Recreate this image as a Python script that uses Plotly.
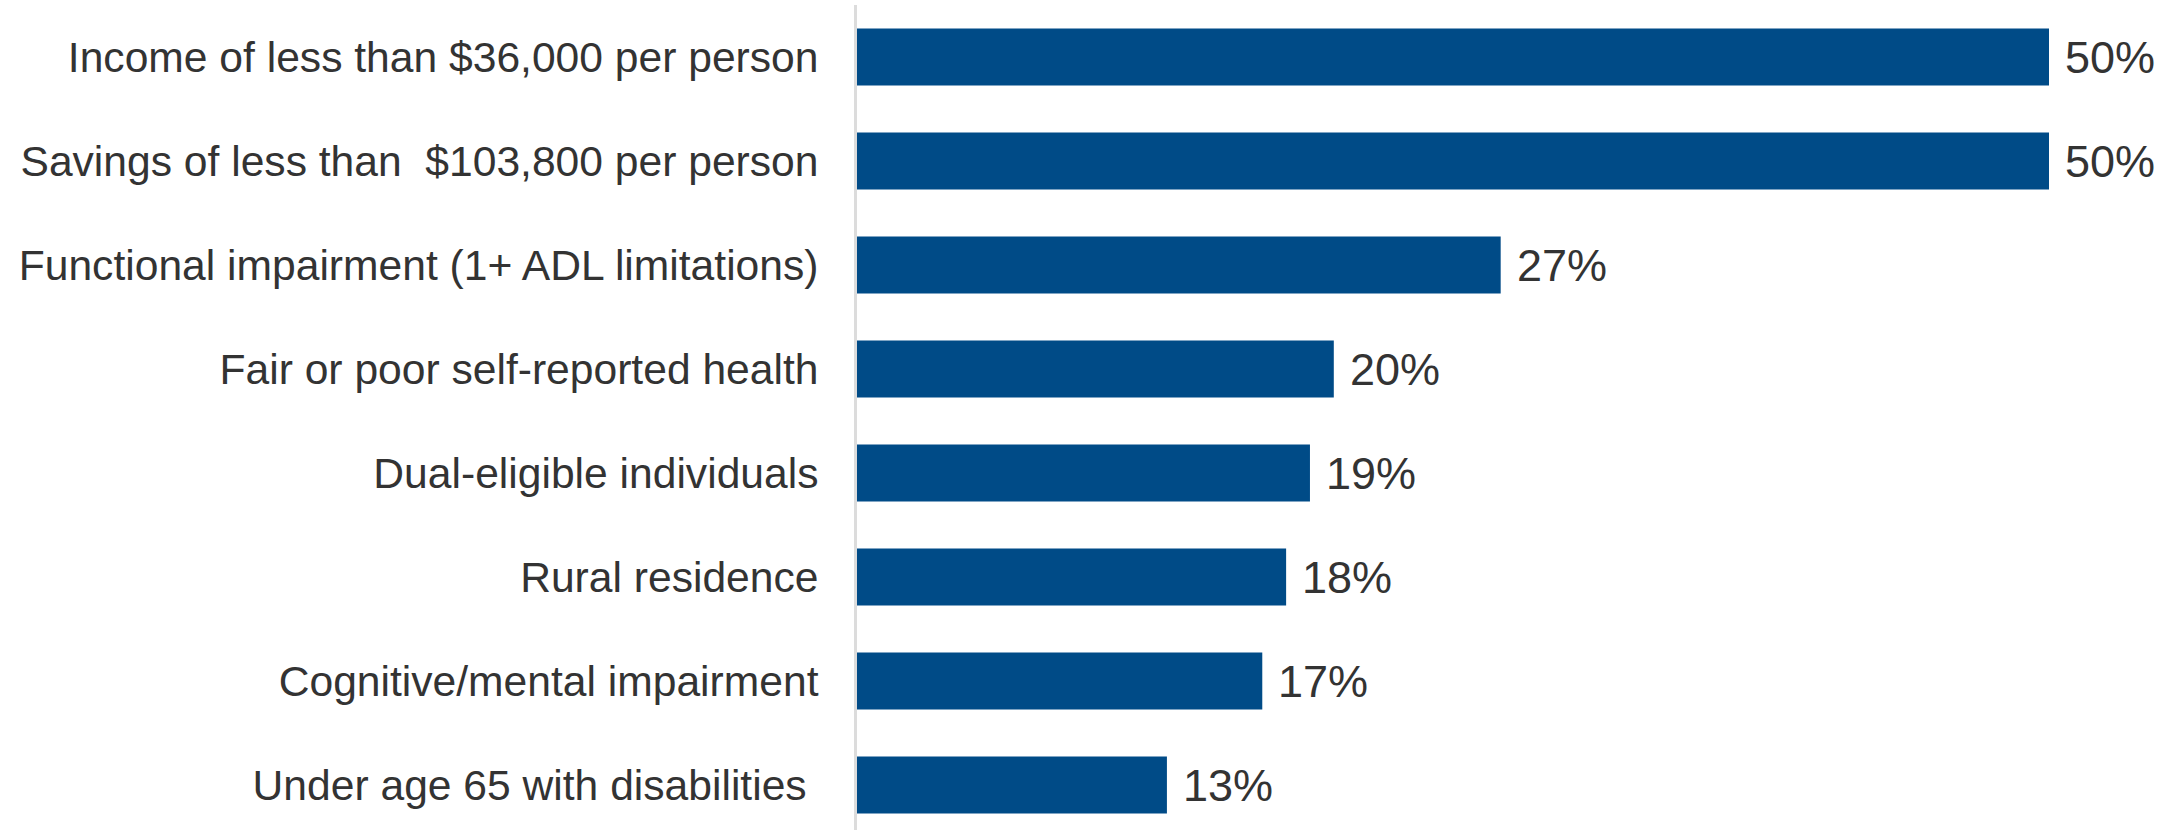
import plotly.graph_objects as go

categories = [
    "Income of less than $36,000 per person",
    "Savings of less than \u00a0$103,800 per person",
    "Functional impairment (1+ ADL limitations)",
    "Fair or poor self-reported health",
    "Dual-eligible individuals",
    "Rural residence",
    "Cognitive/mental impairment",
    "Under age 65 with disabilities\u00a0",
]
values = [50, 50, 27, 20, 19, 18, 17, 13]
value_labels = ["50%", "50%", "27%", "20%", "19%", "18%", "17%", "13%"]

BAR_COLOR = "#004B87"
TEXT_COLOR = "#333333"
FONT = "Liberation Sans, Arial, sans-serif"

fig = go.Figure()
fig.add_trace(go.Bar(
    x=values,
    y=categories,
    orientation="h",
    marker=dict(color=BAR_COLOR, line=dict(width=0)),
    width=0.55,
    hoverinfo="skip",
))

for cat, v, lab in zip(categories, values, value_labels):
    fig.add_annotation(
        x=v, y=cat, text=lab, showarrow=False,
        xanchor="left", yanchor="middle", xshift=14,
        font=dict(family=FONT, size=45, color=TEXT_COLOR),
    )

W, H = 2179, 830
top = 5
pitch = 104.0
plot_h = H - top
span = plot_h / pitch

fig.update_layout(
    width=W, height=H,
    margin=dict(l=857, r=11, t=top, b=0, pad=0),
    paper_bgcolor="white", plot_bgcolor="white",
    showlegend=False,
    font=dict(family=FONT, color=TEXT_COLOR),
    xaxis=dict(
        range=[0, (W - 857 - 11) / 23.84],
        visible=False, showgrid=False, zeroline=False, fixedrange=True,
    ),
    yaxis=dict(
        type="category",
        range=[-0.5 + span, -0.5],
        showline=True, linecolor="#dcdcdc", linewidth=3,
        showgrid=False, zeroline=False,
        ticks="", ticklabelstandoff=27,
        tickfont=dict(family=FONT, size=42.6, color=TEXT_COLOR),
        fixedrange=True,
    ),
)

fig.write_html("out.html")
